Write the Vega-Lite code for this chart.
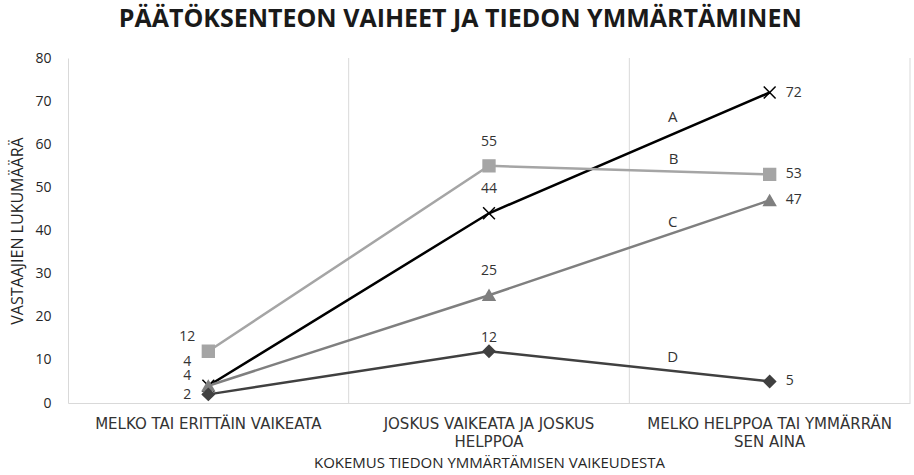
{
  "$schema": "https://vega.github.io/schema/vega-lite/v6.json",
  "width": 842,
  "height": 345,
  "autosize": {"type": "none"},
  "padding": {"left": 68, "top": 58, "right": 4, "bottom": 72},
  "background": "white",
  "config": {
    "view": {"stroke": null},
    "font": "Open Sans",
    "text": {"font": "Open Sans", "fontSize": 14, "color": "#333333"}
  },
  "title": {
    "text": "PÄÄTÖKSENTEON VAIHEET JA TIEDON YMMÄRTÄMINEN",
    "font": "Open Sans",
    "fontSize": 25,
    "fontWeight": "bold",
    "color": "#1a1a1a",
    "anchor": "middle",
    "frame": "bounds",
    "offset": 19
  },
  "data": {
    "values": [
      {"cat": "MELKO TAI ERITTÄIN VAIKEATA", "series": "A", "value": 4},
      {"cat": "JOSKUS VAIKEATA JA JOSKUS HELPPOA", "series": "A", "value": 44},
      {"cat": "MELKO HELPPOA TAI YMMÄRRÄN SEN AINA", "series": "A", "value": 72},
      {"cat": "MELKO TAI ERITTÄIN VAIKEATA", "series": "B", "value": 12},
      {"cat": "JOSKUS VAIKEATA JA JOSKUS HELPPOA", "series": "B", "value": 55},
      {"cat": "MELKO HELPPOA TAI YMMÄRRÄN SEN AINA", "series": "B", "value": 53},
      {"cat": "MELKO TAI ERITTÄIN VAIKEATA", "series": "C", "value": 4},
      {"cat": "JOSKUS VAIKEATA JA JOSKUS HELPPOA", "series": "C", "value": 25},
      {"cat": "MELKO HELPPOA TAI YMMÄRRÄN SEN AINA", "series": "C", "value": 47},
      {"cat": "MELKO TAI ERITTÄIN VAIKEATA", "series": "D", "value": 2},
      {"cat": "JOSKUS VAIKEATA JA JOSKUS HELPPOA", "series": "D", "value": 12},
      {"cat": "MELKO HELPPOA TAI YMMÄRRÄN SEN AINA", "series": "D", "value": 5}
    ]
  },
  "encoding": {
    "x": {
      "field": "cat",
      "type": "nominal",
      "sort": ["MELKO TAI ERITTÄIN VAIKEATA", "JOSKUS VAIKEATA JA JOSKUS HELPPOA", "MELKO HELPPOA TAI YMMÄRRÄN SEN AINA"],
      "scale": {"type": "band", "paddingInner": 0, "paddingOuter": 0},
      "axis": {
        "title": "KOKEMUS TIEDON YMMÄRTÄMISEN VAIKEUDESTA",
        "titleFont": "Open Sans",
        "titleFontSize": 15,
        "titleFontWeight": "normal",
        "titleColor": "#262626",
        "titlePadding": 6,
        "labelAngle": 0,
        "labelFont": "DejaVu Sans",
        "labelFontSize": 15,
        "labelColor": "#333333",
        "labelPadding": 13,
        "labelLineHeight": 18,
        "labelLimit": 0,
        "labelExpr": "datum.value == 'JOSKUS VAIKEATA JA JOSKUS HELPPOA' ? ['JOSKUS VAIKEATA JA JOSKUS', 'HELPPOA'] : datum.value == 'MELKO HELPPOA TAI YMMÄRRÄN SEN AINA' ? ['MELKO HELPPOA TAI YMMÄRRÄN', 'SEN AINA'] : datum.value",
        "ticks": false,
        "grid": false,
        "domainColor": "#d9d9d9",
        "domainWidth": 1
      }
    },
    "y": {
      "field": "value",
      "type": "quantitative",
      "scale": {"domain": [0, 80]},
      "axis": {
        "title": "VASTAAJIEN LUKUMÄÄRÄ",
        "titleFont": "Open Sans",
        "titleFontSize": 16,
        "titleFontWeight": "normal",
        "titleColor": "#262626",
        "titlePadding": 9,
        "values": [0, 10, 20, 30, 40, 50, 60, 70, 80],
        "labelFont": "Open Sans",
        "labelFontSize": 14,
        "labelColor": "#262626",
        "labelPadding": 17,
        "ticks": false,
        "grid": false,
        "domainColor": "#d9d9d9",
        "domainWidth": 1
      }
    }
  },
  "layer": [
    {
      "transform": [{"filter": "datum.series == 'A'"}],
      "mark": {"type": "rule", "color": "#d9d9d9", "strokeWidth": 1},
      "encoding": {
        "x": {"field": "cat", "type": "nominal", "bandPosition": 1, "sort": ["MELKO TAI ERITTÄIN VAIKEATA", "JOSKUS VAIKEATA JA JOSKUS HELPPOA", "MELKO HELPPOA TAI YMMÄRRÄN SEN AINA"]},
        "y": null
      }
    },
    {
      "mark": {"type": "line", "strokeWidth": 2.5},
      "encoding": {
        "color": {"field": "series", "type": "nominal", "scale": {"domain": ["A", "B", "C", "D"], "range": ["#000000", "#a5a5a5", "#7f7f7f", "#404040"]}, "legend": null}
      }
    },
    {
      "mark": {"type": "point", "filled": true, "strokeWidth": 1.5, "opacity": 1},
      "encoding": {
        "color": {"field": "series", "type": "nominal", "scale": {"domain": ["A", "B", "C", "D"], "range": ["#000000", "#a5a5a5", "#7f7f7f", "#404040"]}, "legend": null},
        "stroke": {"field": "series", "type": "nominal", "scale": {"domain": ["A", "B", "C", "D"], "range": ["#000000", "#a5a5a5", "#7f7f7f", "#404040"]}, "legend": null},
        "shape": {"field": "series", "type": "nominal", "scale": {"domain": ["A", "B", "C", "D"], "range": ["M-1,-1L1,1M1,-1L-1,1", "square", "triangle-up", "diamond"]}, "legend": null},
        "size": {"field": "series", "type": "nominal", "scale": {"domain": ["A", "B", "C", "D"], "range": [140, 140, 140, 80]}, "legend": null}
      }
    },
    {
      "transform": [{"filter": "datum.cat == 'MELKO HELPPOA TAI YMMÄRRÄN SEN AINA'"}],
      "mark": {"type": "text", "align": "left", "baseline": "middle", "dx": 16},
      "encoding": {"text": {"field": "value", "type": "quantitative"}}
    },
    {
      "transform": [{"filter": "datum.cat == 'JOSKUS VAIKEATA JA JOSKUS HELPPOA' && datum.series != 'D'"}],
      "mark": {"type": "text", "align": "center", "baseline": "middle", "dy": -24},
      "encoding": {"text": {"field": "value", "type": "quantitative"}}
    },
    {
      "transform": [{"filter": "datum.cat == 'JOSKUS VAIKEATA JA JOSKUS HELPPOA' && datum.series == 'D'"}],
      "mark": {"type": "text", "align": "center", "baseline": "middle", "dy": -13},
      "encoding": {"text": {"field": "value", "type": "quantitative"}}
    },
    {
      "transform": [{"filter": "datum.cat == 'MELKO TAI ERITTÄIN VAIKEATA' && datum.series == 'B'"}],
      "mark": {"type": "text", "align": "center", "baseline": "middle", "dx": -21, "dy": -14},
      "encoding": {"text": {"field": "value", "type": "quantitative"}}
    },
    {
      "transform": [{"filter": "datum.cat == 'MELKO TAI ERITTÄIN VAIKEATA' && datum.series == 'A'"}],
      "mark": {"type": "text", "align": "center", "baseline": "middle", "dx": -21, "dy": -24},
      "encoding": {"text": {"field": "value", "type": "quantitative"}}
    },
    {
      "transform": [{"filter": "datum.cat == 'MELKO TAI ERITTÄIN VAIKEATA' && datum.series == 'C'"}],
      "mark": {"type": "text", "align": "center", "baseline": "middle", "dx": -21, "dy": -10},
      "encoding": {"text": {"field": "value", "type": "quantitative"}}
    },
    {
      "transform": [{"filter": "datum.cat == 'MELKO TAI ERITTÄIN VAIKEATA' && datum.series == 'D'"}],
      "mark": {"type": "text", "align": "center", "baseline": "middle", "dx": -21, "dy": 1},
      "encoding": {"text": {"field": "value", "type": "quantitative"}}
    },
    {
      "transform": [{"filter": "datum.cat == 'MELKO HELPPOA TAI YMMÄRRÄN SEN AINA' && datum.series == 'A'"}],
      "mark": {"type": "text", "align": "center", "baseline": "middle", "dx": -97, "dy": 24, "fontSize": 15},
      "encoding": {"text": {"field": "series", "type": "nominal"}}
    },
    {
      "transform": [{"filter": "datum.cat == 'MELKO HELPPOA TAI YMMÄRRÄN SEN AINA' && datum.series == 'B'"}],
      "mark": {"type": "text", "align": "center", "baseline": "middle", "dx": -96, "dy": -15, "fontSize": 15},
      "encoding": {"text": {"field": "series", "type": "nominal"}}
    },
    {
      "transform": [{"filter": "datum.cat == 'MELKO HELPPOA TAI YMMÄRRÄN SEN AINA' && datum.series == 'C'"}],
      "mark": {"type": "text", "align": "center", "baseline": "middle", "dx": -97, "dy": 22, "fontSize": 15},
      "encoding": {"text": {"field": "series", "type": "nominal"}}
    },
    {
      "transform": [{"filter": "datum.cat == 'MELKO HELPPOA TAI YMMÄRRÄN SEN AINA' && datum.series == 'D'"}],
      "mark": {"type": "text", "align": "center", "baseline": "middle", "dx": -97, "dy": -24, "fontSize": 15},
      "encoding": {"text": {"field": "series", "type": "nominal"}}
    }
  ]
}
